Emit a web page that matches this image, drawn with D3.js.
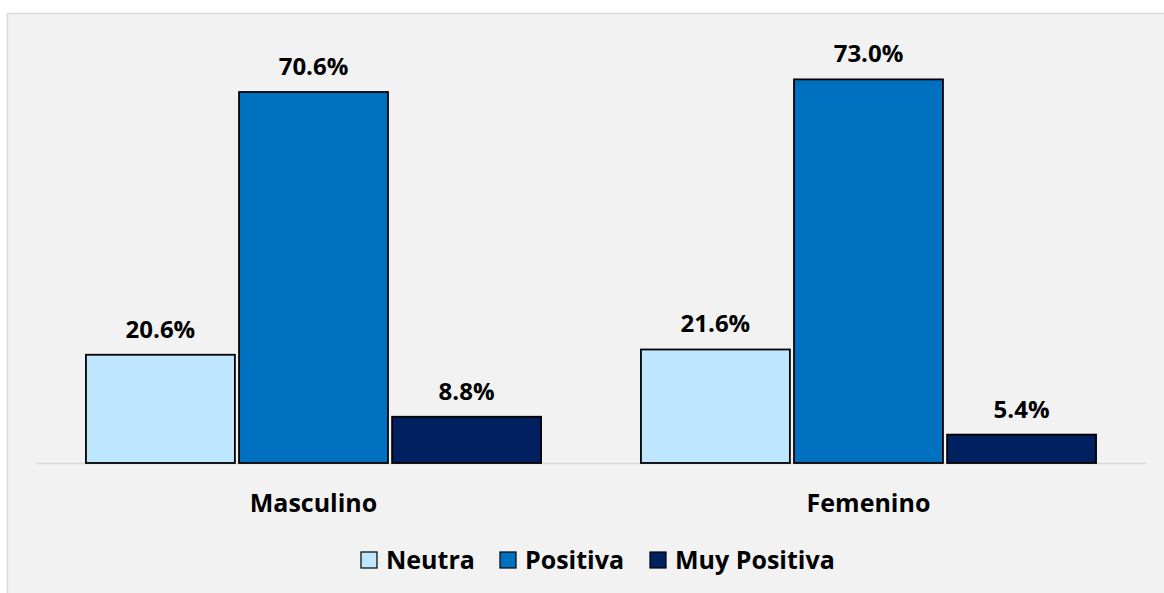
<!DOCTYPE html>
<html>
<head>
<meta charset="utf-8">
<script src="https://cdn.jsdelivr.net/npm/d3@7"></script>
<style>
  body { margin: 0; background: #fff; }
  svg { display: block; font-family: "Open Sans", sans-serif; }
</style>
</head>
<body>
<svg id="chart" width="1164" height="593"></svg>
<script>
// data
const categories = ["Masculino", "Femenino"];
const series = ["Neutra", "Positiva", "Muy Positiva"];
const neutra = [20.6, 21.6];
const positiva = [70.6, 73.0];
const muyPositiva = [8.8, 5.4];
const colors = ["#bfe6ff", "#0070c0", "#002060"];

const values = [neutra, positiva, muyPositiva];

let svg = d3.select("#chart");

// panel background
svg.append("rect")
  .attr("x", 7.5).attr("y", 13.5)
  .attr("width", 1170).attr("height", 600)
  .attr("fill", "#f2f2f2")
  .attr("stroke", "#d9d9d9")
  .attr("stroke-width", 1.5);

let x0 = d3.scaleBand().domain(categories).range([36, 1146]).paddingInner(0.18).paddingOuter(0.09);
let x1 = d3.scaleBand().domain(series).range([0, x0.bandwidth()]).paddingInner(0.027);
let y = d3.scaleLinear().domain([0, 70.6]).range([463, 92]);

// baseline
svg.append("line")
  .attr("x1", 37).attr("x2", 1146)
  .attr("y1", y(0) + 0.5).attr("y2", y(0) + 0.5)
  .attr("stroke", "#d9d9d9").attr("stroke-width", 1.5);

let rows = [];
categories.forEach((c, i) => {
  series.forEach((s, j) => rows.push({ cat: c, ser: s, val: values[j][i], color: colors[j] }));
});

let g = svg.append("g");

g.selectAll("rect.bar")
  .data(rows)
  .enter()
  .append("rect")
  .attr("class", "bar")
  .attr("x", d => x0(d.cat) + x1(d.ser))
  .attr("y", d => y(d.val))
  .attr("width", x1.bandwidth())
  .attr("height", d => y(0) - y(d.val))
  .attr("fill", d => d.color)
  .attr("stroke", "#000")
  .attr("stroke-width", 1.8);

g.selectAll("text.lbl")
  .data(rows)
  .enter()
  .append("text")
  .attr("class", "lbl")
  .attr("x", d => x0(d.cat) + x1(d.ser) + x1.bandwidth() / 2)
  .attr("y", d => y(d.val) - 17)
  .attr("text-anchor", "middle")
  .attr("font-size", 24)
  .attr("font-weight", 700)
  .attr("fill", "#000")
  .text(d => d.val.toFixed(1) + "%");

// category labels
svg.selectAll("text.cat")
  .data(categories)
  .enter()
  .append("text")
  .attr("class", "cat")
  .attr("x", d => x0(d) + x0.bandwidth() / 2)
  .attr("y", 512)
  .attr("text-anchor", "middle")
  .attr("font-size", 25)
  .attr("font-weight", 700)
  .text(d => d);

// legend
const legendX = [361, 500, 650];
let leg = svg.append("g");
series.forEach((s, j) => {
  leg.append("rect")
    .attr("x", legendX[j]).attr("y", 552)
    .attr("width", 16).attr("height", 16)
    .attr("fill", colors[j])
    .attr("stroke", "#000").attr("stroke-width", 1.2);
  leg.append("text")
    .attr("x", legendX[j] + 25).attr("y", 569)
    .attr("font-size", 25)
    .attr("font-weight", 700)
    .text(s);
});
</script>
</body>
</html>
